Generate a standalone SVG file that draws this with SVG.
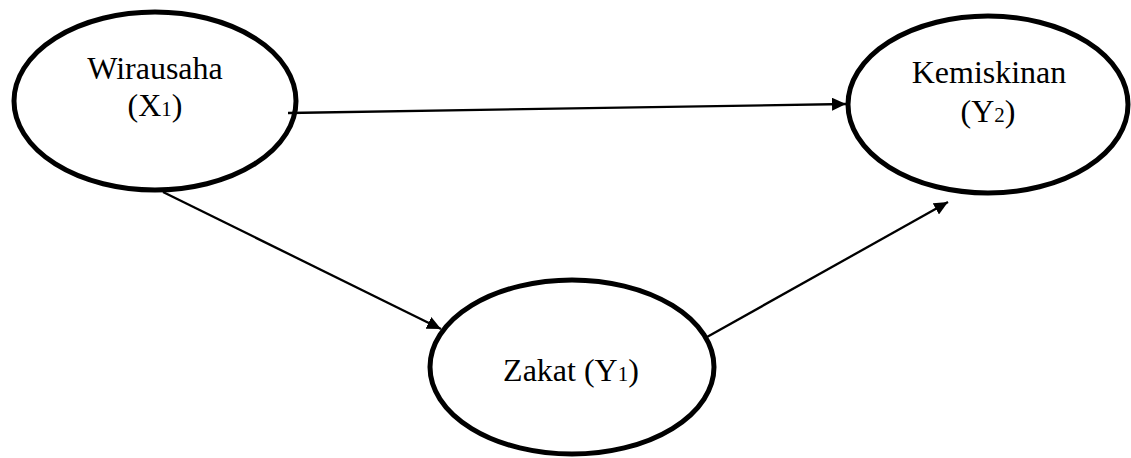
<svg xmlns="http://www.w3.org/2000/svg" width="1131" height="458" viewBox="0 0 1131 458">
  <style>
    .node { fill: #ffffff; stroke: #000000; stroke-width: 5; }
    .label { font-family: "Liberation Serif", "Times New Roman", serif; font-size: 32px; fill: #000000; text-anchor: middle; }
    .sub { font-size: 21px; }
    .edge { stroke: #000000; stroke-width: 2.3; fill: none; marker-end: url(#arrow); }
  </style>
  <defs>
    <marker id="arrow" markerUnits="userSpaceOnUse" markerWidth="15" markerHeight="13" refX="14" refY="6.5" orient="auto">
      <path d="M0,0 L14,6.5 L0,13 z" fill="#000000"/>
    </marker>
  </defs>
  <rect x="0" y="0" width="1131" height="458" fill="#ffffff"/>
  <g id="node-wirausaha">
    <ellipse class="node" cx="155" cy="101" rx="141" ry="89"/>
    <text class="label" x="155" y="79">Wirausaha</text>
    <text class="label" x="155" y="116">(X<tspan class="sub">1</tspan>)</text>
  </g>
  <g id="node-kemiskinan">
    <ellipse class="node" cx="988" cy="104.5" rx="140" ry="88.5"/>
    <text class="label" x="989" y="83">Kemiskinan</text>
    <text class="label" x="988" y="122">(Y<tspan class="sub">2</tspan>)</text>
  </g>
  <g id="node-zakat">
    <ellipse class="node" cx="572" cy="367" rx="142" ry="87"/>
    <text class="label" x="571" y="381">Zakat (Y<tspan class="sub">1</tspan>)</text>
  </g>
  <g id="connectors">
    <line class="edge" x1="288" y1="113" x2="846" y2="104"/>
    <line class="edge" x1="163" y1="192" x2="441" y2="329"/>
    <line class="edge" x1="707" y1="337" x2="948" y2="202"/>
  </g>
</svg>
